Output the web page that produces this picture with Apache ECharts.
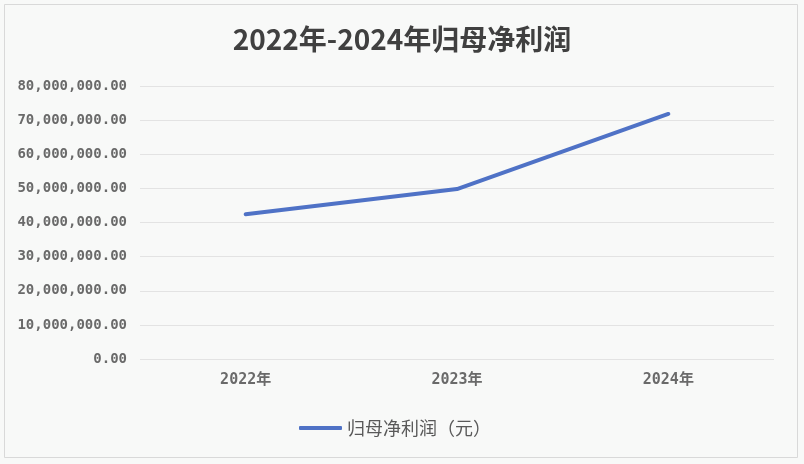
<!DOCTYPE html>
<html><head><meta charset="utf-8">
<script src="https://cdn.jsdelivr.net/npm/echarts@6/dist/echarts.min.js"></script>
<style>html,body{margin:0;padding:0;background:#fff}#c{width:804px;height:464px}</style>
</head><body><div id="c"></div>
<script>
const categories = ['2022年', '2023年', '2024年'];
const profit = [42400000, 49800000, 71800000];
const seriesName = '归母净利润（元）';
const titleText = '2022年-2024年归母净利润';

const chart = echarts.init(document.getElementById('c'));
chart.setOption({
  backgroundColor: '#f8f9f8',
  graphic: [{type:'rect', shape:{x:4.5,y:4.5,width:793,height:453}, style:{fill:'none', stroke:'#d9d9d9', lineWidth:1}}],
  title: {text: titleText, left: 'center', top: 20,
    textStyle: {fontFamily: 'Noto Sans CJK SC', fontWeight: 'bold', fontSize: 28, color: '#404040'}},
  grid: {left: 140, right: 30, top: 86, bottom: 105, containLabel: false},
  legend: {bottom: 22, left: 294, itemWidth: 43, itemHeight: 4, itemGap: 6,
    icon: 'roundRect',
    textStyle: {fontFamily: 'Noto Sans CJK SC', fontSize: 18, color: '#595959'},
    data: [seriesName]},
  xAxis: {type: 'category', data: categories, boundaryGap: true,
    axisLine: {show: false}, axisTick: {show: false},
    axisLabel: {margin: 14, fontFamily: 'DejaVu Sans Mono, Noto Sans CJK SC', fontWeight: 'bold', fontSize: 15, color: '#6a6a6a'}},
  yAxis: {type: 'value', min: 0, max: 80000000, interval: 10000000,
    axisLine: {show: false}, axisTick: {show: false},
    splitLine: {lineStyle: {color: '#e3e3e3', width: 1}},
    axisLabel: {margin: 13, fontFamily: 'DejaVu Sans Mono', fontWeight: 'bold', fontSize: 14, color: '#6a6a6a',
      formatter: v => v.toLocaleString('en-US', {minimumFractionDigits: 2, maximumFractionDigits: 2})}},
  series: [{name: seriesName, type: 'line', data: profit, symbol: 'none',
    lineStyle: {color: '#4f72c6', width: 4, cap: 'round', join: 'round'},
    itemStyle: {color: '#4f72c6'}}]
});
</script></body></html>
